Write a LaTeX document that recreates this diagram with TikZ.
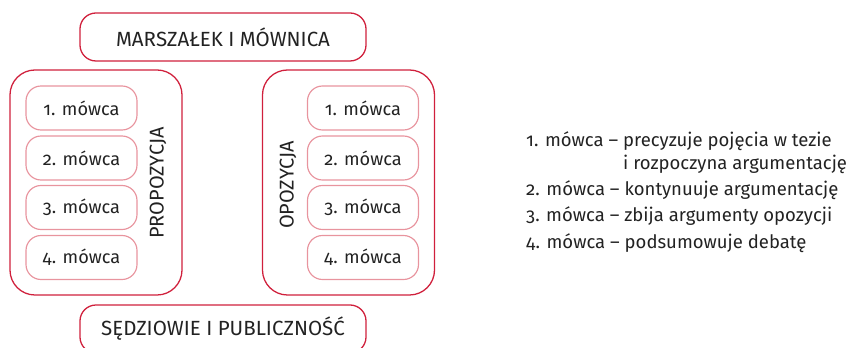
\documentclass[tikz,border=0pt]{standalone}
\usepackage{fontspec}
\setmainfont{Fira Sans}[Numbers=OldStyle]
\usetikzlibrary{positioning}
\definecolor{debred}{HTML}{D0203C}
\definecolor{debpink}{HTML}{E8949E}
\definecolor{debtext}{HTML}{222222}

\begin{document}
\begin{tikzpicture}[x=0.03cm, y=-0.03cm, text=debtext,
    titlebox/.style={draw=debred, line width=1.1pt, rounded corners=0.48cm,
      minimum width=8.58cm, minimum height=1.44cm, font=\fontsize{17.5}{21}\selectfont},
    sidebox/.style={draw=debred, line width=1.1pt, rounded corners=0.75cm,
      minimum width=5.16cm, minimum height=6.75cm},
    speakerbox/.style={draw=debpink, line width=1pt, rounded corners=0.45cm,
      minimum width=3.33cm, minimum height=1.32cm, font=\fontsize{15.5}{19}\selectfont},
    sidelabel/.style={rotate=90, font=\fontsize{17}{21}\selectfont},
    legend/.style={anchor=base west, inner sep=0pt, font=\fontsize{15.8}{19}\selectfont}]
  \useasboundingbox (0,0) rectangle (860,348);
  \clip (0,0) rectangle (860,348);

  % gora i dol
  \node[titlebox] (marszalek) at (223,37) {MARSZAŁEK I MÓWNICA};
  \node[titlebox] (sedziowie) at (223,329) {SĘDZIOWIE I PUBLICZNOŚĆ};

  % druzyny
  \node[sidebox] (propozycja) at (96,182.5) {};
  \node[sidebox] (opozycja) at (348.5,182.5) {};
  \node[sidelabel] (propozycjaTxt) at (158,183) {PROPOZYCJA};
  \node[sidelabel] (opozycjaTxt) at (288,185) {OPOZYCJA};

  \foreach \i/\y in {1/108, 2/158, 3/207.5, 4/257.5} {
    \node[speakerbox] (prop\i) at (81.5,\y) {\i. mówca};
    \node[speakerbox] (opoz\i) at (363,\y) {\i. mówca};
  }

  % opis mowcow
  \node[legend] (opis1) at (526,147) {1. mówca – precyzuje pojęcia w tezie};
  \node[legend] (opis1b) at (526,170) {\phantom{1. mówca – }i rozpoczyna argumentację};
  \node[legend] (opis2) at (526,196) {2. mówca – kontynuuje argumentację};
  \node[legend] (opis3) at (526,222) {3. mówca – zbija argumenty opozycji};
  \node[legend] (opis4) at (526,249) {4. mówca – podsumowuje debatę};
\end{tikzpicture}
\end{document}
